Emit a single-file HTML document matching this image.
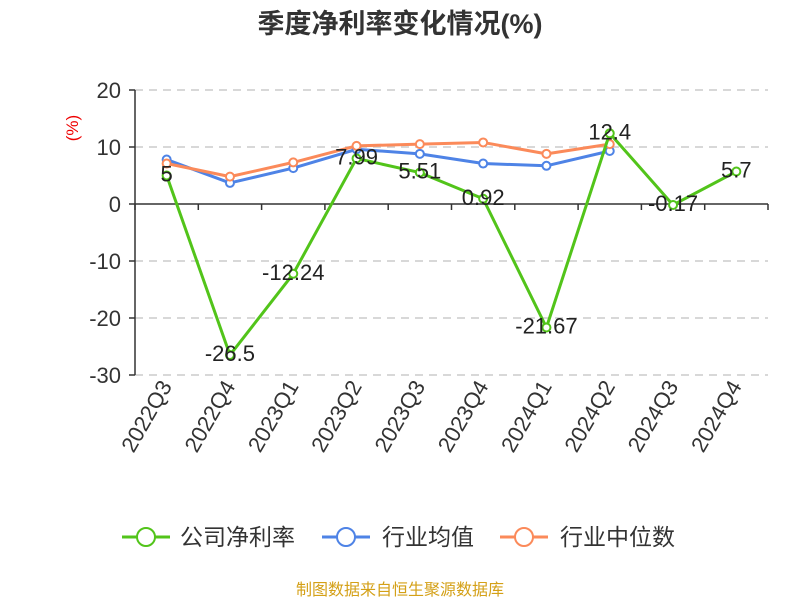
<!DOCTYPE html>
<html><head><meta charset="utf-8"><style>
body{margin:0;background:#fff;font-family:"Liberation Sans","Noto Sans CJK SC",sans-serif}
</style></head><body>
<svg id="c" width="800" height="600" xmlns="http://www.w3.org/2000/svg" font-family="'Liberation Sans','Noto Sans CJK SC',sans-serif">
<text x="400" y="33" text-anchor="middle" font-size="27" font-weight="bold" fill="#333">季度净利率变化情况(%)</text>
<text x="78" y="128" text-anchor="middle" font-size="17" fill="#e00" transform="rotate(-90 78 128)">(%)</text>
<g id="grid"></g><g id="series"></g>
<g>
<g><line x1="122" y1="537" x2="170" y2="537" stroke="#52c41a" stroke-width="3"/><circle cx="146" cy="537" r="9" fill="#fff" stroke="#52c41a" stroke-width="2"/><text x="180" y="545" font-size="23" fill="#333">公司净利率</text></g>
<g><line x1="322" y1="537" x2="370" y2="537" stroke="#4e83e6" stroke-width="3"/><circle cx="346" cy="537" r="9" fill="#fff" stroke="#4e83e6" stroke-width="2"/><text x="382" y="545" font-size="23" fill="#333">行业均值</text></g>
<g><line x1="500" y1="537" x2="548" y2="537" stroke="#fb8a5a" stroke-width="3"/><circle cx="524" cy="537" r="9" fill="#fff" stroke="#fb8a5a" stroke-width="2"/><text x="560" y="545" font-size="23" fill="#333">行业中位数</text></g>
</g>
<text x="400" y="595" text-anchor="middle" font-size="16" fill="#d4a017">制图数据来自恒生聚源数据库</text>
</svg>
<script>
const categories=["2022Q3","2022Q4","2023Q1","2023Q2","2023Q3","2023Q4","2024Q1","2024Q2","2024Q3","2024Q4"];
const companyValues=[5,-26.5,-12.24,7.99,5.51,0.92,-21.67,12.4,-0.17,5.7];
const industryAvg=[7.8,3.7,6.3,9.6,8.8,7.1,6.7,9.3];
const industryMedian=[7.1,4.8,7.3,10.2,10.5,10.8,8.8,10.5];
const yTicks=[20,10,0,-10,-20,-30];
const NS="http://www.w3.org/2000/svg";
const L=135,R=768,yTop=90,yBot=375,yMax=20,yMin=-30;
const band=(R-L)/categories.length;
const xs=i=>L+band*(i+0.5);
const ys=v=>yTop+(yMax-v)/(yMax-yMin)*(yBot-yTop);
function mk(t,a,p){const e=document.createElementNS(NS,t);for(const k in a)e.setAttribute(k,a[k]);p.appendChild(e);return e;}
const g=document.getElementById('grid'),s=document.getElementById('series');
yTicks.forEach(v=>{
 if(v!==0){const l=mk('line',{x1:L,x2:R,y1:ys(v),y2:ys(v),stroke:'#ccc','stroke-dasharray':'8,6','stroke-width':1.5},g);
 
 }
 const t=mk('text',{x:L-14,y:ys(v)+8,'text-anchor':'end','font-size':22,fill:'#333'},g);t.textContent=v;
 
 
 mk('line',{x1:L-6,x2:L,y1:ys(v),y2:ys(v),stroke:'#333','stroke-width':1.5},g);
});
const ya=mk('line',{x1:L,x2:L,y1:yTop,y2:yBot,stroke:'#333','stroke-width':1.5},g);


const xa=mk('line',{x1:L,x2:R,y1:ys(0),y2:ys(0),stroke:'#333','stroke-width':1.5},g);


for(let i=0;i<=categories.length;i++)mk('line',{x1:L+band*i,x2:L+band*i,y1:ys(0),y2:ys(0)+6,stroke:'#333','stroke-width':1.5},g);
categories.forEach((c,i)=>{
 const x=xs(i)+6,y=386;
 const t=mk('text',{x:x,y:y,'text-anchor':'end','font-size':22,fill:'#333',transform:`rotate(-60 ${x} ${y})`},g);
 t.textContent=c;
 
 
});
function series(vals,color,name){
 const p=mk('polyline',{points:vals.map((v,i)=>xs(i)+','+ys(v)).join(' '),fill:'none',stroke:color,'stroke-width':3,'stroke-linejoin':'round'},s);
 
 
 vals.forEach((v,i)=>{
  const c=mk('circle',{cx:xs(i),cy:ys(v),r:4,fill:'#fff',stroke:color,'stroke-width':2},s);
  
  
 });
}
series(industryAvg,'#4e83e6','industry-avg');
series(industryMedian,'#fb8a5a','industry-median');
series(companyValues,'#52c41a','company');
companyValues.forEach((v,i)=>{
 const t=mk('text',{x:xs(i),y:ys(v)+6,'text-anchor':'middle','font-size':22,fill:'#222'},s);
 t.textContent=v;
 
 
});
</script>
</body></html>
